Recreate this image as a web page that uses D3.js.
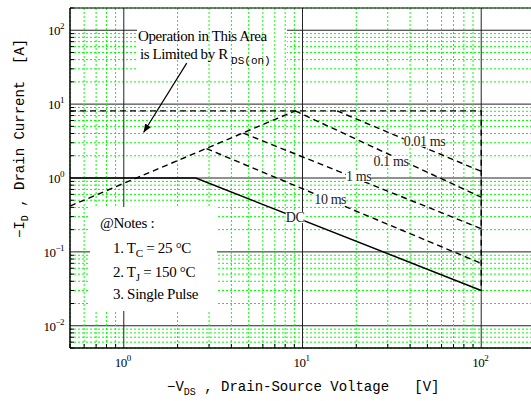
<!DOCTYPE html>
<html>
<head>
<meta charset="utf-8">
<script src="https://cdn.jsdelivr.net/npm/d3@7"></script>
<style>
  body { margin: 0; background: #fff; }
  text { font-family: "Liberation Serif", serif; fill: #000; white-space: pre; }
</style>
</head>
<body>
<div id="soa"></div>
<script>
// axis ticks
const xMajor = [1, 10, 100];
const xExp = ["0", "1", "2"];
const yMajor = [0.01, 0.1, 1, 10, 100];
const yExp = ["\u22122", "\u22121", "0", "1", "2"];

// curves, [V, A]
const currentLimit = [[0.5, 8.1], [100, 8.1], [100, 0.03]];
const rdsLimit = [[0.5, 0.417], [9.1, 8.1]];
const pulse001 = [[15.6, 8.1], [100, 1.23]];
const pulse01 = [[9.1, 8.1], [100, 0.55]];
const pulse1 = [[4.67, 4.05], [100, 0.206]];
const pulse10 = [[2.9, 2.5], [100, 0.07]];
const dcLine = [[0.5, 1], [2.53, 1], [100, 0.03]];

const curveNames = ["0.01 ms", "0.1 ms", "1 ms", "10 ms", "DC"];
const curveLabelAt = [[48.2, 3.14], [31.3, 1.68], [20.6, 1.05], [14.3, 0.514], [9.08, 0.293]];

const W = 531, H = 401;
const serif = "'Liberation Serif', 'DejaVu Serif', serif";
const mono = "'Liberation Mono', 'DejaVu Sans Mono', monospace";

let svg = d3.select("#soa").append("svg")
  .attr("width", W).attr("height", H);

let x = d3.scaleLog().domain([0.5, 200]).range([70, 535]);
let y = d3.scaleLog().domain([0.005, 200]).range([348, 8]);

const isMajor = v => Math.abs(Math.log10(v) - Math.round(Math.log10(v))) < 1e-9;
let xMinor = x.ticks().filter(v => !isMajor(v));
let yMinor = y.ticks().filter(v => !isMajor(v));

// horizontal grid
svg.append("g").selectAll("line").data(yMinor).enter().append("line")
  .attr("x1", 70).attr("x2", W).attr("y1", d => y(d)).attr("y2", d => y(d))
  .attr("stroke", "#00ff00").attr("stroke-dasharray", "2,2");
svg.append("g").selectAll("line").data(yMajor).enter().append("line")
  .attr("x1", 70).attr("x2", W).attr("y1", d => y(d)).attr("y2", d => y(d))
  .attr("stroke", "#222");

// white area behind the R_DS(on) note (hides horizontal grid only)
svg.append("rect").attr("x", 137).attr("y", 25).attr("width", 150).attr("height", 50)
  .attr("fill", "#fff");

// vertical grid
svg.append("g").selectAll("line").data(xMinor).enter().append("line")
  .attr("y1", 8).attr("y2", 348).attr("x1", d => x(d)).attr("x2", d => x(d))
  .attr("stroke", "#00ff00").attr("stroke-dasharray", "2,2");
svg.append("g").selectAll("line").data(xMajor).enter().append("line")
  .attr("y1", 8).attr("y2", 348).attr("x1", d => x(d)).attr("x2", d => x(d))
  .attr("stroke", "#222");

// frame
svg.append("line").attr("x1", 70).attr("x2", W).attr("y1", 8).attr("y2", 8).attr("stroke", "#000");
svg.append("line").attr("x1", 70).attr("x2", W).attr("y1", 348).attr("y2", 348).attr("stroke", "#000").attr("stroke-width", 1.5);
svg.append("line").attr("x1", 70).attr("x2", 70).attr("y1", 8).attr("y2", 348).attr("stroke", "#000").attr("stroke-width", 1.5);

// minor ticks
svg.append("g").selectAll("line").data(yMinor).enter().append("line")
  .attr("x1", 70).attr("x2", 74).attr("y1", d => y(d)).attr("y2", d => y(d))
  .attr("stroke", "#000");
svg.append("g").selectAll("line").data(xMinor).enter().append("line")
  .attr("y1", 348).attr("y2", 344).attr("x1", d => x(d)).attr("x2", d => x(d))
  .attr("stroke", "#000");

// tick labels
let xl = svg.append("g").selectAll("text").data(xMajor).enter().append("text")
  .attr("x", d => x(d) - 9).attr("y", 367)
  .style("font-family", serif).style("font-size", "13px").style("letter-spacing", "-0.5px");
xl.append("tspan").text("10");
xl.append("tspan").attr("dy", -6).style("font-size", "9px").text((d, i) => xExp[i]);

let yl = svg.append("g").selectAll("text").data(yMajor).enter().append("text")
  .attr("x", 64).attr("y", d => y(d) + 5).attr("text-anchor", "end")
  .style("font-family", serif).style("font-size", "13px").style("letter-spacing", "-0.5px");
yl.append("tspan").text("10");
yl.append("tspan").attr("dy", -6).style("font-size", "9px").text((d, i) => yExp[i]);

// curves
let line = d3.line().x(d => x(d[0])).y(d => y(d[1]));
[currentLimit, rdsLimit, pulse001, pulse01, pulse1, pulse10].forEach(c => {
  svg.append("path").datum(c).attr("d", line)
    .attr("fill", "none").attr("stroke", "#000").attr("stroke-width", 1.4)
    .attr("stroke-dasharray", "6,4");
});
svg.append("path").datum(dcLine).attr("d", line)
  .attr("fill", "none").attr("stroke", "#000").attr("stroke-width", 1.5);

// curve labels with white backing
curveNames.forEach((name, i) => {
  let g = svg.append("g");
  let t = g.append("text")
    .attr("x", x(curveLabelAt[i][0])).attr("y", y(curveLabelAt[i][1]))
    .attr("text-anchor", "middle").attr("dominant-baseline", "central")
    .style("font-family", serif).style("font-size", "14px")
    .style("letter-spacing", "-0.4px").style("fill", "#222").text(name);
  let b = t.node().getBBox();
  g.insert("rect", "text").attr("x", b.x).attr("y", b.y + 2)
    .attr("width", b.width).attr("height", b.height - 4).attr("fill", "#fff");
});

// R_DS(on) note
svg.append("text").attr("x", 138).attr("y", 41)
  .style("font-family", serif).style("font-size", "15px")
  .style("letter-spacing", "-0.4px").text("Operation in This Area");
let n2 = svg.append("text").attr("x", 140).attr("y", 59)
  .style("font-family", serif).style("font-size", "15px")
  .style("letter-spacing", "-0.4px");
n2.append("tspan").text("is Limited by R ");
n2.append("tspan").attr("dy", 5).style("font-family", mono)
  .style("font-size", "11px").style("letter-spacing", "0px").text("DS(on)");

svg.append("defs").append("marker").attr("id", "head")
  .attr("viewBox", "0 0 10 10").attr("refX", 10).attr("refY", 5)
  .attr("markerWidth", 7).attr("markerHeight", 7).attr("orient", "auto")
  .append("path").attr("d", "M0,1L10,5L0,9Z").attr("fill", "#000");
svg.append("line")
  .attr("x1", x(2.25)).attr("y1", y(35.9)).attr("x2", x(1.29)).attr("y2", y(4.13))
  .attr("stroke", "#000").attr("stroke-width", 1.2).attr("marker-end", "url(#head)");

// notes box
svg.append("rect").attr("x", 90).attr("y", 207).attr("width", 127).attr("height", 104)
  .attr("fill", "#fff");
let notes = svg.append("g").style("font-family", serif)
  .style("font-size", "15px").style("letter-spacing", "-0.3px");
notes.append("text").attr("x", 100).attr("y", 228).text("@Notes :");
let t1 = notes.append("text").attr("x", 113).attr("y", 253);
t1.append("tspan").text("1. T");
t1.append("tspan").attr("dy", 4).style("font-size", "11px").text("C");
t1.append("tspan").attr("dy", -4).text(" = 25 \u00B0C");
let t2 = notes.append("text").attr("x", 113).attr("y", 277);
t2.append("tspan").text("2. T");
t2.append("tspan").attr("dy", 4).style("font-size", "11px").text("J");
t2.append("tspan").attr("dy", -4).text(" = 150 \u00B0C");
notes.append("text").attr("x", 113).attr("y", 299).text("3. Single Pulse");

// axis titles
let xt = svg.append("text").attr("x", 167).attr("y", 391)
  .style("font-family", mono).style("font-size", "14px");
xt.append("tspan").text("\u2212V");
xt.append("tspan").attr("dy", 4).style("font-size", "10px").text("DS");
xt.append("tspan").attr("dy", -4).text(" , Drain-Source Voltage   [V]");

let yt = svg.append("text").attr("transform", "translate(24,238) rotate(-90)")
  .style("font-family", mono).style("font-size", "14px");
yt.append("tspan").text("\u2212I");
yt.append("tspan").attr("dy", 4).style("font-size", "10px").text("D");
yt.append("tspan").attr("dy", -4).text(" , Drain Current  [A]");
</script>
</body>
</html>
